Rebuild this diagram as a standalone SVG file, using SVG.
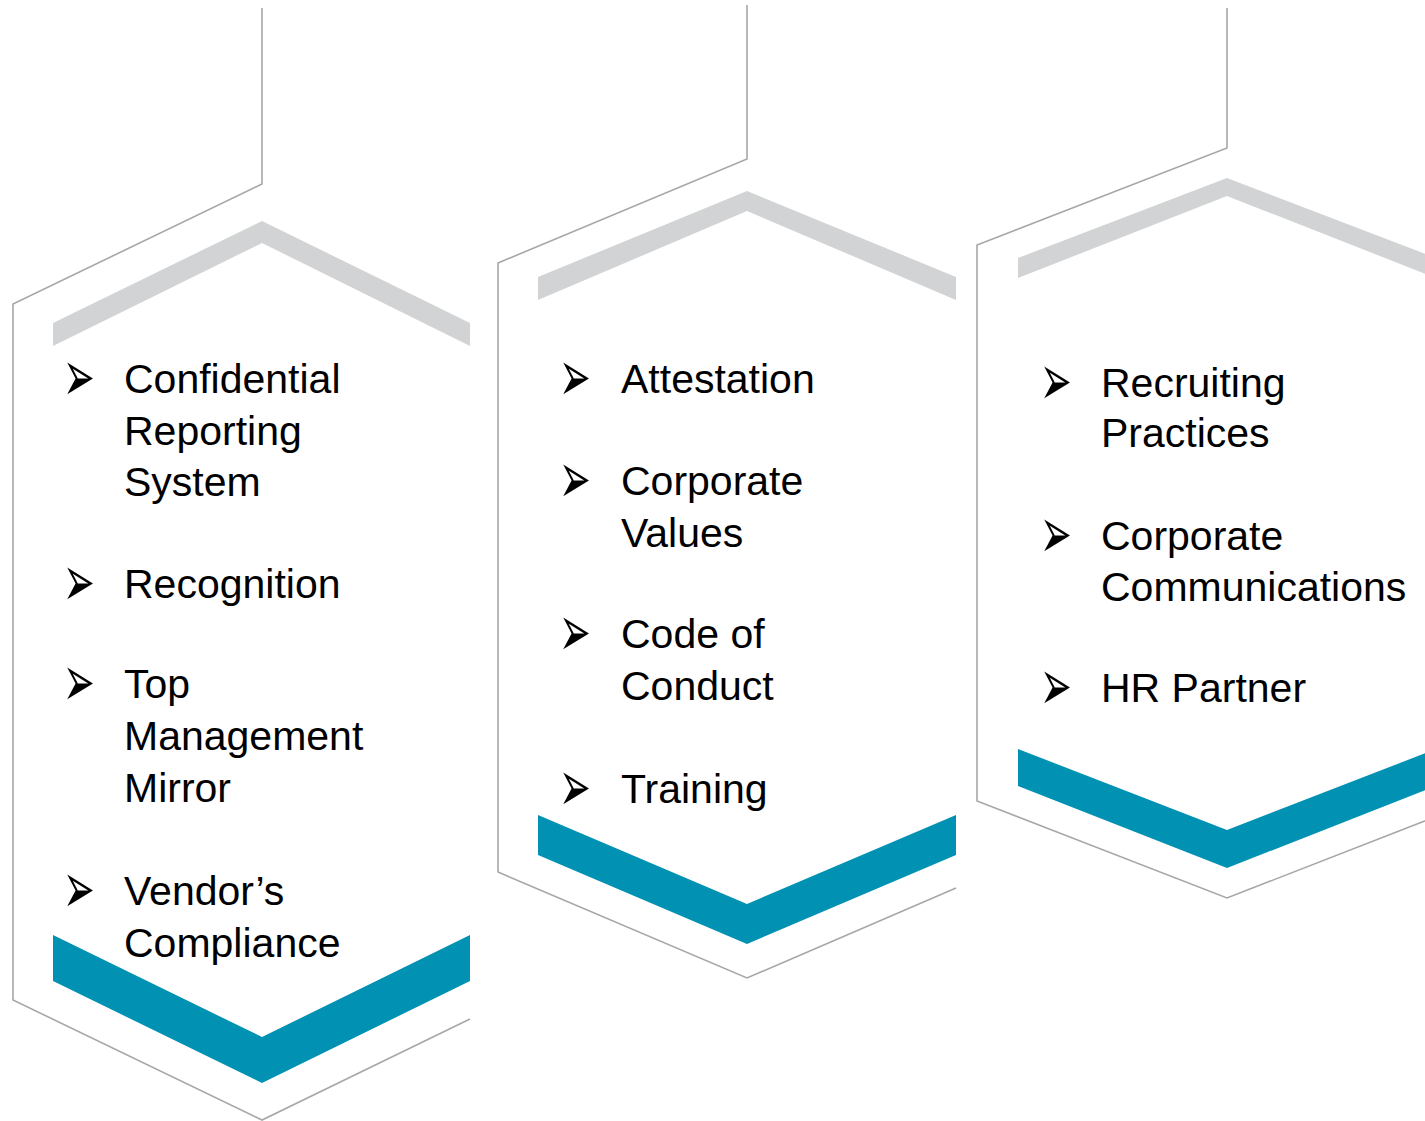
<svg xmlns="http://www.w3.org/2000/svg" width="1425" height="1121" viewBox="0 0 1425 1121">
<style>
.outline{fill:none;stroke:#a7a7a7;stroke-width:1.6}
.gray{fill:#d1d3d4}
.teal{fill:#0091b3}
.t{font-family:"Liberation Sans",Arial,sans-serif;font-size:41px;fill:#000}
.b{font-family:"DejaVu Sans",sans-serif;font-size:38px;fill:#000}
</style>
<rect width="1425" height="1121" fill="#fff"/>
<g id="column1">
<polyline class="outline" points="262,8 262,184 13,304 13,1000 262,1120 470,1019"/>
<polygon class="gray" points="53,323 262,221 470,323 470,346 262,243 53,346"/>
<polygon class="teal" points="53,935 262,1037 470,935 470,981 262,1083 53,981"/>
<text class="b" transform="translate(63,401) scale(1,1.9)">➢</text>
<text class="t" x="124" y="393">Confidential</text>
<text class="t" x="124" y="444.5">Reporting</text>
<text class="t" x="124" y="496">System</text>
<text class="b" transform="translate(63,606) scale(1,1.9)">➢</text>
<text class="t" x="124" y="598">Recognition</text>
<text class="b" transform="translate(63,706) scale(1,1.9)">➢</text>
<text class="t" x="124" y="698">Top</text>
<text class="t" x="124" y="750">Management</text>
<text class="t" x="124" y="801.5">Mirror</text>
<text class="b" transform="translate(63,913) scale(1,1.9)">➢</text>
<text class="t" x="124" y="905">Vendor’s</text>
<text class="t" x="124" y="956.5">Compliance</text>
</g>
<g id="column2">
<polyline class="outline" points="747,5 747,159 498,263 498,872 747,978 956,888"/>
<polygon class="gray" points="538,277 747,191 956,277 956,300 747,211 538,300"/>
<polygon class="teal" points="538,815 747,904 956,815 956,855 747,944 538,855"/>
<text class="b" transform="translate(559,401) scale(1,1.9)">➢</text>
<text class="t" x="621" y="393">Attestation</text>
<text class="b" transform="translate(559,503) scale(1,1.9)">➢</text>
<text class="t" x="621" y="495">Corporate</text>
<text class="t" x="621" y="546.5">Values</text>
<text class="b" transform="translate(559,656) scale(1,1.9)">➢</text>
<text class="t" x="621" y="648">Code of</text>
<text class="t" x="621" y="700">Conduct</text>
<text class="b" transform="translate(559,811) scale(1,1.9)">➢</text>
<text class="t" x="621" y="803">Training</text>
</g>
<g id="column3">
<polyline class="outline" points="1227,8 1227,148 977,245 977,801 1227,898 1440,815"/>
<polygon class="gray" points="1018,258 1227,178 1436,258 1436,278 1227,196 1018,278"/>
<polygon class="teal" points="1018,749 1227,830 1436,749 1436,786 1227,868 1018,786"/>
<text class="b" transform="translate(1040,405) scale(1,1.9)">➢</text>
<text class="t" x="1101" y="397">Recruiting</text>
<text class="t" x="1101" y="447">Practices</text>
<text class="b" transform="translate(1040,558) scale(1,1.9)">➢</text>
<text class="t" x="1101" y="550">Corporate</text>
<text class="t" x="1101" y="601">Communications</text>
<text class="b" transform="translate(1040,710) scale(1,1.9)">➢</text>
<text class="t" x="1101" y="702">HR Partner</text>
</g>
<g id="connectors"/>
</svg>
